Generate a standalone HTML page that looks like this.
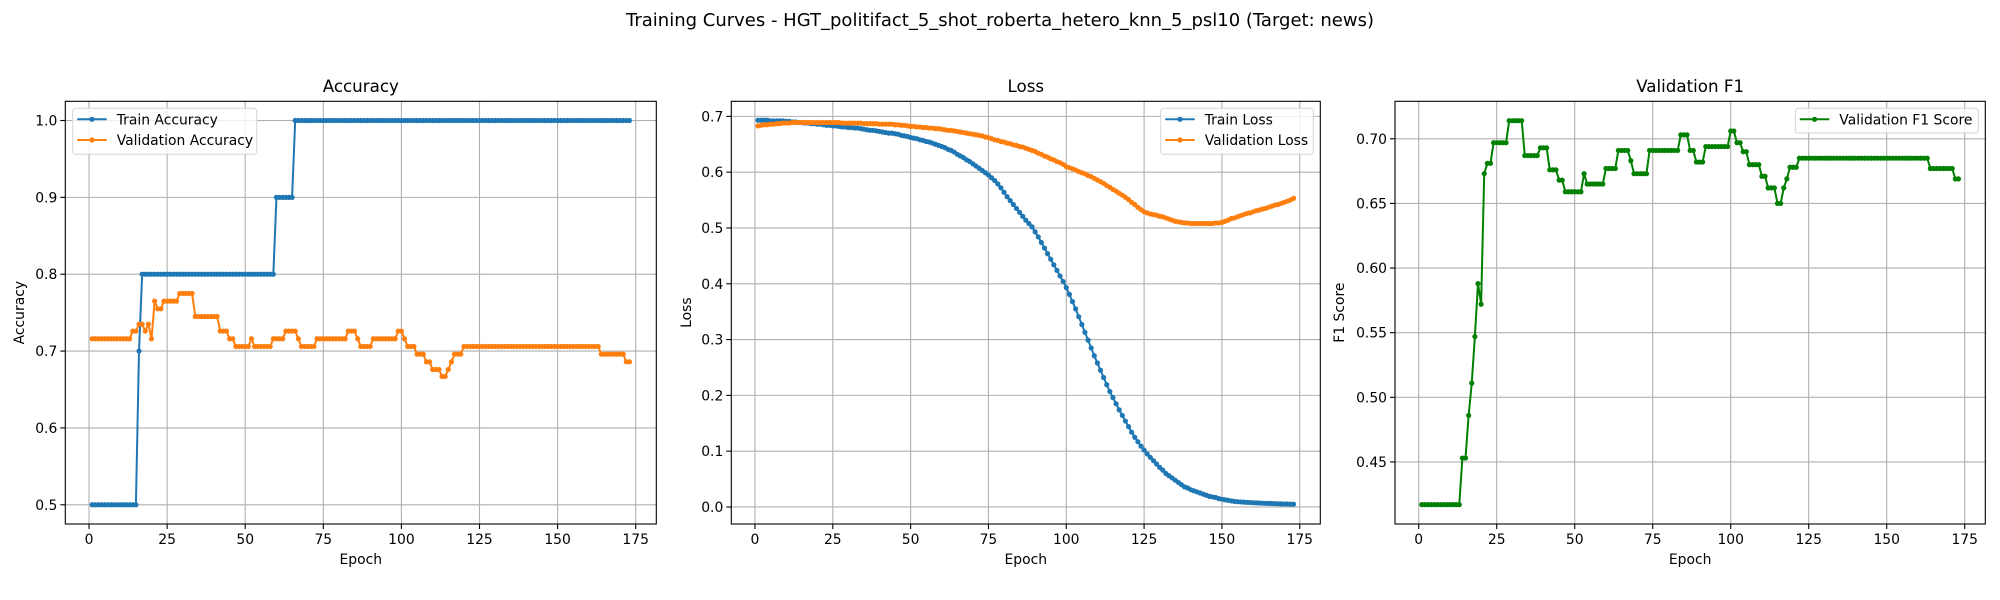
<!DOCTYPE html>
<html><head><meta charset="utf-8"><style>
html,body{margin:0;padding:0;background:#fff;}
svg{display:block;font-family:"DejaVu Sans","Liberation Sans",sans-serif;}
</style></head><body>
<svg id="fig" width="2000" height="600" viewBox="0 0 2000 600" xmlns="http://www.w3.org/2000/svg">
<rect width="2000" height="600" fill="#fff"/>
<text x="1000" y="26" font-size="18" text-anchor="middle" fill="#000">Training Curves - HGT_politifact_5_shot_roberta_hetero_knn_5_psl10 (Target: news)</text>
</svg>
<script>
const epochs = Array.from({length:173},(_, i)=>i+1);
const xTicks = [0,25,50,75,100,125,150,175];
const accTicks = [0.5,0.6,0.7,0.8,0.9,1.0];
const lossTicks = [0.0,0.1,0.2,0.3,0.4,0.5,0.6,0.7];
const f1Ticks = [0.45,0.50,0.55,0.60,0.65,0.70];

const trainAcc = [
.5,.5,.5,.5,.5,.5,.5,.5,.5,.5,
.5,.5,.5,.5,.5,.7,.8,.8,.8,.8,
.8,.8,.8,.8,.8,.8,.8,.8,.8,.8,
.8,.8,.8,.8,.8,.8,.8,.8,.8,.8,
.8,.8,.8,.8,.8,.8,.8,.8,.8,.8,
.8,.8,.8,.8,.8,.8,.8,.8,.8,.9,
.9,.9,.9,.9,.9,1,1,1,1,1,
1,1,1,1,1,1,1,1,1,1,
1,1,1,1,1,1,1,1,1,1,
1,1,1,1,1,1,1,1,1,1,
1,1,1,1,1,1,1,1,1,1,
1,1,1,1,1,1,1,1,1,1,
1,1,1,1,1,1,1,1,1,1,
1,1,1,1,1,1,1,1,1,1,
1,1,1,1,1,1,1,1,1,1,
1,1,1,1,1,1,1,1,1,1,
1,1,1,1,1,1,1,1,1,1,
1,1,1];
const valAcc = [
.716,.716,.716,.716,.716,.716,.716,.716,.716,.716,
.716,.716,.716,.726,.726,.735,.735,.726,.735,.716,
.765,.755,.755,.765,.765,.765,.765,.765,.775,.775,
.775,.775,.775,.745,.745,.745,.745,.745,.745,.745,
.745,.726,.726,.726,.716,.716,.706,.706,.706,.706,
.706,.716,.706,.706,.706,.706,.706,.706,.716,.716,
.716,.716,.726,.726,.726,.726,.716,.706,.706,.706,
.706,.706,.716,.716,.716,.716,.716,.716,.716,.716,
.716,.716,.726,.726,.726,.716,.706,.706,.706,.706,
.716,.716,.716,.716,.716,.716,.716,.716,.726,.726,
.716,.706,.706,.706,.696,.696,.696,.686,.686,.676,
.676,.676,.667,.667,.676,.686,.696,.696,.696,.706,
.706,.706,.706,.706,.706,.706,.706,.706,.706,.706,
.706,.706,.706,.706,.706,.706,.706,.706,.706,.706,
.706,.706,.706,.706,.706,.706,.706,.706,.706,.706,
.706,.706,.706,.706,.706,.706,.706,.706,.706,.706,
.706,.706,.706,.696,.696,.696,.696,.696,.696,.696,
.696,.686,.686];
const trainLoss = [
.693,.693,.693,.693,.692,.692,.692,.692,.692,.691,
.691,.690,.690,.689,.689,.688,.688,.687,.687,.686,
.686,.685,.684,.684,.683,.683,.682,.681,.681,.680,
.680,.679,.679,.678,.677,.676,.675,.675,.674,.673,
.672,.671,.670,.670,.669,.668,.666,.665,.664,.662,
.661,.660,.658,.657,.655,.654,.652,.650,.648,.646,
.644,.641,.639,.636,.632,.629,.626,.622,.619,.615,
.611,.607,.603,.599,.595,.590,.585,.579,.572,.564,
.556,.549,.542,.535,.528,.521,.514,.508,.502,.493,
.484,.474,.464,.454,.444,.434,.424,.414,.404,.393,
.381,.368,.355,.341,.327,.313,.299,.285,.271,.258,
.245,.232,.219,.207,.196,.185,.174,.164,.154,.144,
.134,.125,.117,.109,.102,.095,.089,.083,.077,.071,
.066,.060,.056,.052,.048,.044,.040,.036,.034,.031,
.029,.027,.025,.023,.021,.019,.018,.017,.015,.014,
.013,.012,.011,.010,.0095,.009,.0087,.0083,.008,.0077,
.0074,.0071,.0068,.0066,.0064,.0062,.006,.0058,.0056,.0054,
.0053,.0051,.005];
const valLoss = [
.683,.684,.685,.685,.686,.686,.687,.687,.688,.688,
.688,.689,.689,.689,.689,.689,.689,.689,.689,.689,
.689,.689,.689,.689,.689,.689,.689,.688,.688,.688,
.688,.688,.688,.688,.687,.687,.687,.687,.687,.686,
.686,.686,.686,.686,.685,.685,.684,.684,.683,.682,
.682,.681,.681,.680,.680,.679,.679,.678,.678,.677,
.676,.675,.675,.674,.673,.672,.671,.670,.669,.668,
.667,.666,.665,.663,.662,.660,.658,.657,.655,.654,
.652,.651,.649,.648,.646,.645,.643,.641,.639,.637,
.634,.632,.629,.627,.624,.622,.619,.617,.614,.610,
.608,.606,.604,.601,.599,.597,.594,.592,.589,.586,
.583,.580,.576,.573,.569,.566,.562,.559,.555,.551,
.546,.542,.537,.533,.529,.527,.525,.524,.523,.521,
.520,.518,.516,.514,.512,.511,.510,.509,.509,.508,
.508,.508,.508,.508,.508,.508,.508,.509,.509,.510,
.512,.514,.517,.518,.520,.522,.524,.526,.527,.529,
.531,.532,.534,.535,.537,.539,.541,.542,.544,.546,
.548,.550,.553];
const valF1 = [
.417,.417,.417,.417,.417,.417,.417,.417,.417,.417,
.417,.417,.417,.453,.453,.486,.511,.547,.588,.572,
.673,.681,.681,.697,.697,.697,.697,.697,.714,.714,
.714,.714,.714,.687,.687,.687,.687,.687,.693,.693,
.693,.676,.676,.676,.668,.668,.659,.659,.659,.659,
.659,.659,.673,.665,.665,.665,.665,.665,.665,.677,
.677,.677,.677,.691,.691,.691,.691,.683,.673,.673,
.673,.673,.673,.691,.691,.691,.691,.691,.691,.691,
.691,.691,.691,.703,.703,.703,.691,.691,.682,.682,
.682,.694,.694,.694,.694,.694,.694,.694,.694,.706,
.706,.697,.697,.690,.690,.680,.680,.680,.680,.671,
.671,.662,.662,.662,.650,.650,.662,.669,.678,.678,
.678,.685,.685,.685,.685,.685,.685,.685,.685,.685,
.685,.685,.685,.685,.685,.685,.685,.685,.685,.685,
.685,.685,.685,.685,.685,.685,.685,.685,.685,.685,
.685,.685,.685,.685,.685,.685,.685,.685,.685,.685,
.685,.685,.685,.677,.677,.677,.677,.677,.677,.677,
.677,.669,.669];

const NS = "http://www.w3.org/2000/svg";
const svg = document.getElementById('fig');
function mk(tag, attrs, parent){
  const e = document.createElementNS(NS, tag);
  for (const k in attrs) e.setAttribute(k, attrs[k]);
  (parent||svg).appendChild(e);
  return e;
}
function linScale(d0,d1,r0,r1){ return v => r0 + (v-d0)/(d1-d0)*(r1-r0); }

function panel(cfg){
  const g = mk('g', {});
  
  
  const L=cfg.left, R=cfg.right, T=101.3, B=524;
  const xs = linScale(-7.6, 181.6, L, R);
  const ys = linScale(cfg.ylim[0], cfg.ylim[1], B, T);
  xTicks.forEach(t=>{
    const gl = mk('line',{x1:xs(t),x2:xs(t),y1:T,y2:B,stroke:'#b0b0b0','stroke-width':1.1},g);
    
    
    const tk = mk('line',{x1:xs(t),x2:xs(t),y1:B,y2:B+5,stroke:'#000','stroke-width':1.1},g);
    
    
    const tl = mk('text',{x:xs(t),y:B+20,'font-size':13.9,'text-anchor':'middle',fill:'#000'},g);
    tl.textContent = String(t);
    
    
  });
  cfg.yticks.forEach(t=>{
    const gl = mk('line',{x1:L,x2:R,y1:ys(t),y2:ys(t),stroke:'#b0b0b0','stroke-width':1.1},g);
    
    
    const tk = mk('line',{x1:L-5,x2:L,y1:ys(t),y2:ys(t),stroke:'#000','stroke-width':1.1},g);
    
    
    const tl = mk('text',{x:L-8,y:ys(t)+5,'font-size':13.9,'text-anchor':'end',fill:'#000'},g);
    tl.textContent = t.toFixed(cfg.dec);
    
    
  });
  cfg.series.forEach(s=>{
    const sg = mk('g',{},g);
    
    
    const pts = s.data.map((v,i)=>xs(epochs[i]).toFixed(2)+','+ys(v).toFixed(2)).join(' ');
    const pl = mk('polyline',{points:pts,fill:'none',stroke:s.color,'stroke-width':2,'stroke-linejoin':'round'},sg);
    
    
    s.data.forEach((v,i)=>{
      const c = mk('circle',{cx:xs(epochs[i]),cy:ys(v),r:2.6,fill:s.color},sg);
      
      
    });
  });
  const fr = mk('rect',{x:L,y:T,width:R-L,height:B-T,fill:'none',stroke:'#000','stroke-width':1.1},g);
  
  
  const tt = mk('text',{x:(L+R)/2,y:92,'font-size':16.7,'text-anchor':'middle',fill:'#000'},g);
  tt.textContent = cfg.title;
  
  
  const xl = mk('text',{x:(L+R)/2,y:564,'font-size':13.9,'text-anchor':'middle',fill:'#000'},g);
  xl.textContent = 'Epoch';
  
  
  const yl = mk('text',{x:cfg.ylabelX,y:(T+B)/2,'font-size':13.9,'text-anchor':'middle',fill:'#000',transform:`rotate(-90 ${cfg.ylabelX} ${(T+B)/2})`},g);
  yl.textContent = cfg.ylabel;
  
  
  const lg = mk('g',{},g);
  
  
  const lb = cfg.legend;
  mk('rect',{x:lb.x,y:108.3,width:lb.w,height:cfg.series.length===2?46:24.7,rx:3,fill:'#fff','fill-opacity':0.8,stroke:'#d6d6d6','stroke-width':1},lg);
  cfg.series.forEach((s,i)=>{
    const yy = 119.3 + i*20.7;
    const le = mk('g',{},lg);
    
    
    mk('line',{x1:lb.x+4.5,x2:lb.x+34,y1:yy,y2:yy,stroke:s.color,'stroke-width':2},le);
    mk('circle',{cx:lb.x+19.3,cy:yy,r:2.6,fill:s.color},le);
    const t = mk('text',{x:lb.x+44,y:yy+5,'font-size':13.9,fill:'#000'},le);
    t.textContent = s.label;
  });
}

panel({name:'accuracy-panel',title:'Accuracy',ylabel:'Accuracy',ylabelX:24,left:65.3,right:656.3,ylim:[0.475,1.025],yticks:accTicks,dec:1,
  legend:{x:72.7,w:184},
  series:[{name:'train-accuracy',label:'Train Accuracy',color:'#1f77b4',data:trainAcc},
          {name:'validation-accuracy',label:'Validation Accuracy',color:'#ff7f0e',data:valAcc}]});
panel({name:'loss-panel',title:'Loss',ylabel:'Loss',ylabelX:691,left:731.3,right:1320.3,ylim:[-0.0305,0.727],yticks:lossTicks,dec:1,
  legend:{x:1160.7,w:152.6},
  series:[{name:'train-loss',label:'Train Loss',color:'#1f77b4',data:trainLoss},
          {name:'validation-loss',label:'Validation Loss',color:'#ff7f0e',data:valLoss}]});
panel({name:'f1-panel',title:'Validation F1',ylabel:'F1 Score',ylabelX:1344,left:1395,right:1985.3,ylim:[0.402,0.729],yticks:f1Ticks,dec:2,
  legend:{x:1795.3,w:183},
  series:[{name:'validation-f1',label:'Validation F1 Score',color:'#008000',data:valF1}]});
</script>
</body></html>
